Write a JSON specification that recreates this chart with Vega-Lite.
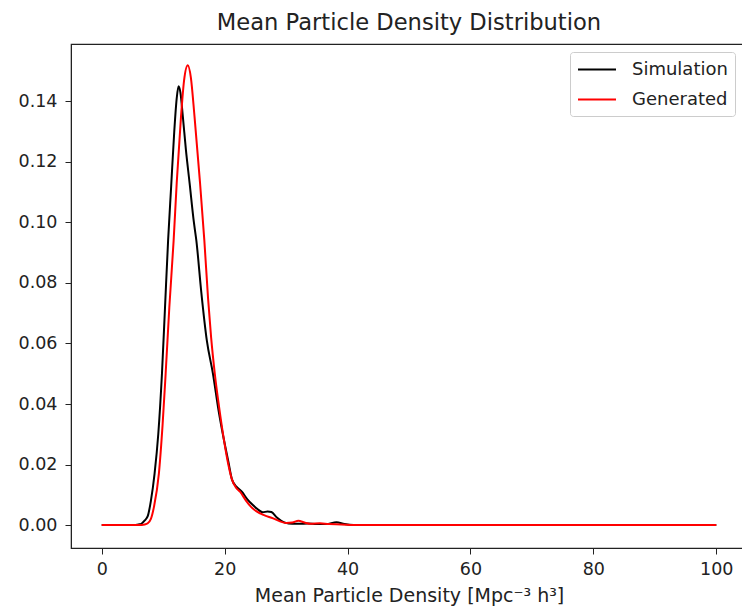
{
  "$schema": "https://vega.github.io/schema/vega-lite/v6.json",
  "autosize": {"type": "none"},
  "padding": {"left": 71, "top": 44, "right": 0, "bottom": 63},
  "width": 676,
  "height": 504,
  "background": "white",
  "title": {"text": "Mean Particle Density Distribution", "font": "DejaVu Sans", "fontSize": 22.6, "fontWeight": "normal", "color": "#222", "offset": 9},
  "config": {
    "view": {"stroke": "#222", "strokeWidth": 1.2},
    "axis": {"labelFont": "DejaVu Sans", "titleFont": "DejaVu Sans", "labelFontSize": 17.5, "titleFontSize": 19, "titleFontWeight": "normal", "labelColor": "#222", "titleColor": "#222", "domainColor": "#222", "tickColor": "#222", "grid": false, "tickSize": 6, "labelPadding": 6}
  },
  "data": {"values": [
    {"x": 0, "y": 0, "s": "Simulation"},
    {"x": 5, "y": 0, "s": "Simulation"},
    {"x": 6, "y": 0.0002, "s": "Simulation"},
    {"x": 6.5, "y": 0.0005, "s": "Simulation"},
    {"x": 7, "y": 0.0015, "s": "Simulation"},
    {"x": 7.5, "y": 0.003, "s": "Simulation"},
    {"x": 8, "y": 0.008, "s": "Simulation"},
    {"x": 8.6, "y": 0.017, "s": "Simulation"},
    {"x": 9.2, "y": 0.03, "s": "Simulation"},
    {"x": 9.8, "y": 0.05, "s": "Simulation"},
    {"x": 10.3, "y": 0.072, "s": "Simulation"},
    {"x": 10.8, "y": 0.094, "s": "Simulation"},
    {"x": 11.3, "y": 0.112, "s": "Simulation"},
    {"x": 11.8, "y": 0.13, "s": "Simulation"},
    {"x": 12.2, "y": 0.141, "s": "Simulation"},
    {"x": 12.5, "y": 0.145, "s": "Simulation"},
    {"x": 12.8, "y": 0.143, "s": "Simulation"},
    {"x": 13.2, "y": 0.135, "s": "Simulation"},
    {"x": 13.7, "y": 0.124, "s": "Simulation"},
    {"x": 14.3, "y": 0.113, "s": "Simulation"},
    {"x": 15.0, "y": 0.1, "s": "Simulation"},
    {"x": 15.4, "y": 0.094, "s": "Simulation"},
    {"x": 16.2, "y": 0.077, "s": "Simulation"},
    {"x": 17.1, "y": 0.061, "s": "Simulation"},
    {"x": 18.1, "y": 0.05, "s": "Simulation"},
    {"x": 19.0, "y": 0.038, "s": "Simulation"},
    {"x": 19.9, "y": 0.028, "s": "Simulation"},
    {"x": 20.6, "y": 0.021, "s": "Simulation"},
    {"x": 21.2, "y": 0.015, "s": "Simulation"},
    {"x": 22.0, "y": 0.0125, "s": "Simulation"},
    {"x": 22.8, "y": 0.011, "s": "Simulation"},
    {"x": 23.7, "y": 0.0085, "s": "Simulation"},
    {"x": 24.6, "y": 0.0066, "s": "Simulation"},
    {"x": 25.5, "y": 0.005, "s": "Simulation"},
    {"x": 26.2, "y": 0.0042, "s": "Simulation"},
    {"x": 27.0, "y": 0.0045, "s": "Simulation"},
    {"x": 27.6, "y": 0.0043, "s": "Simulation"},
    {"x": 28.5, "y": 0.0025, "s": "Simulation"},
    {"x": 29.8, "y": 0.0008, "s": "Simulation"},
    {"x": 31, "y": 0.0004, "s": "Simulation"},
    {"x": 32.2, "y": 0.0004, "s": "Simulation"},
    {"x": 33.5, "y": 0.0005, "s": "Simulation"},
    {"x": 35, "y": 0.0003, "s": "Simulation"},
    {"x": 36.5, "y": 0.0003, "s": "Simulation"},
    {"x": 38.2, "y": 0.0009, "s": "Simulation"},
    {"x": 39.5, "y": 0.0003, "s": "Simulation"},
    {"x": 41, "y": 0, "s": "Simulation"},
    {"x": 50, "y": 0, "s": "Simulation"},
    {"x": 100, "y": 0, "s": "Simulation"},
    {"x": 0, "y": 0, "s": "Generated"},
    {"x": 6, "y": 0, "s": "Generated"},
    {"x": 7, "y": 0.0002, "s": "Generated"},
    {"x": 7.5, "y": 0.0006, "s": "Generated"},
    {"x": 8, "y": 0.002, "s": "Generated"},
    {"x": 8.5, "y": 0.006, "s": "Generated"},
    {"x": 9.3, "y": 0.017, "s": "Generated"},
    {"x": 9.9, "y": 0.033, "s": "Generated"},
    {"x": 10.4, "y": 0.05, "s": "Generated"},
    {"x": 11.0, "y": 0.072, "s": "Generated"},
    {"x": 11.7, "y": 0.094, "s": "Generated"},
    {"x": 12.2, "y": 0.113, "s": "Generated"},
    {"x": 12.9, "y": 0.135, "s": "Generated"},
    {"x": 13.4, "y": 0.147, "s": "Generated"},
    {"x": 14.0, "y": 0.152, "s": "Generated"},
    {"x": 14.5, "y": 0.148, "s": "Generated"},
    {"x": 15.1, "y": 0.135, "s": "Generated"},
    {"x": 16.0, "y": 0.113, "s": "Generated"},
    {"x": 16.7, "y": 0.094, "s": "Generated"},
    {"x": 17.3, "y": 0.075, "s": "Generated"},
    {"x": 17.8, "y": 0.062, "s": "Generated"},
    {"x": 18.4, "y": 0.05, "s": "Generated"},
    {"x": 19.1, "y": 0.039, "s": "Generated"},
    {"x": 19.9, "y": 0.028, "s": "Generated"},
    {"x": 20.6, "y": 0.02, "s": "Generated"},
    {"x": 21.2, "y": 0.015, "s": "Generated"},
    {"x": 21.8, "y": 0.0125, "s": "Generated"},
    {"x": 22.5, "y": 0.011, "s": "Generated"},
    {"x": 23.5, "y": 0.008, "s": "Generated"},
    {"x": 24.3, "y": 0.006, "s": "Generated"},
    {"x": 25.2, "y": 0.0045, "s": "Generated"},
    {"x": 26.5, "y": 0.0032, "s": "Generated"},
    {"x": 27.9, "y": 0.0022, "s": "Generated"},
    {"x": 29, "y": 0.0012, "s": "Generated"},
    {"x": 30, "y": 0.0007, "s": "Generated"},
    {"x": 31, "y": 0.0008, "s": "Generated"},
    {"x": 32, "y": 0.0014, "s": "Generated"},
    {"x": 33, "y": 0.0008, "s": "Generated"},
    {"x": 34, "y": 0.0004, "s": "Generated"},
    {"x": 35.5, "y": 0.0006, "s": "Generated"},
    {"x": 37, "y": 0.0003, "s": "Generated"},
    {"x": 39, "y": 0.0002, "s": "Generated"},
    {"x": 41, "y": 0, "s": "Generated"},
    {"x": 100, "y": 0, "s": "Generated"}
  ]},
  "mark": {"type": "line", "interpolate": "monotone", "strokeWidth": 2},
  "encoding": {
    "x": {"field": "x", "type": "quantitative", "scale": {"domain": [-5, 105], "nice": false, "zero": false}, "axis": {"values": [0, 20, 40, 60, 80, 100], "title": "Mean Particle Density [Mpc⁻³ h³]", "titlePadding": 9}},
    "y": {"field": "y", "type": "quantitative", "scale": {"domain": [-0.0076, 0.159], "nice": false, "zero": false}, "axis": {"values": [0, 0.02, 0.04, 0.06, 0.08, 0.1, 0.12, 0.14], "format": ".2f", "title": null, "labelPadding": 8}},
    "color": {"field": "s", "type": "nominal", "sort": ["Simulation", "Generated"], "scale": {"domain": ["Simulation", "Generated"], "range": ["black", "red"]},
      "legend": {"title": null, "orient": "none", "legendX": 499, "legendY": 8, "symbolType": "M-1,0H3", "symbolSize": 361, "symbolStrokeWidth": 2, "labelFont": "DejaVu Sans", "labelFontSize": 18, "labelColor": "#222", "rowPadding": 10, "padding": 7, "strokeColor": "#ccc", "cornerRadius": 3, "fillColor": "white", "labelOffset": 34}}
  }
}
